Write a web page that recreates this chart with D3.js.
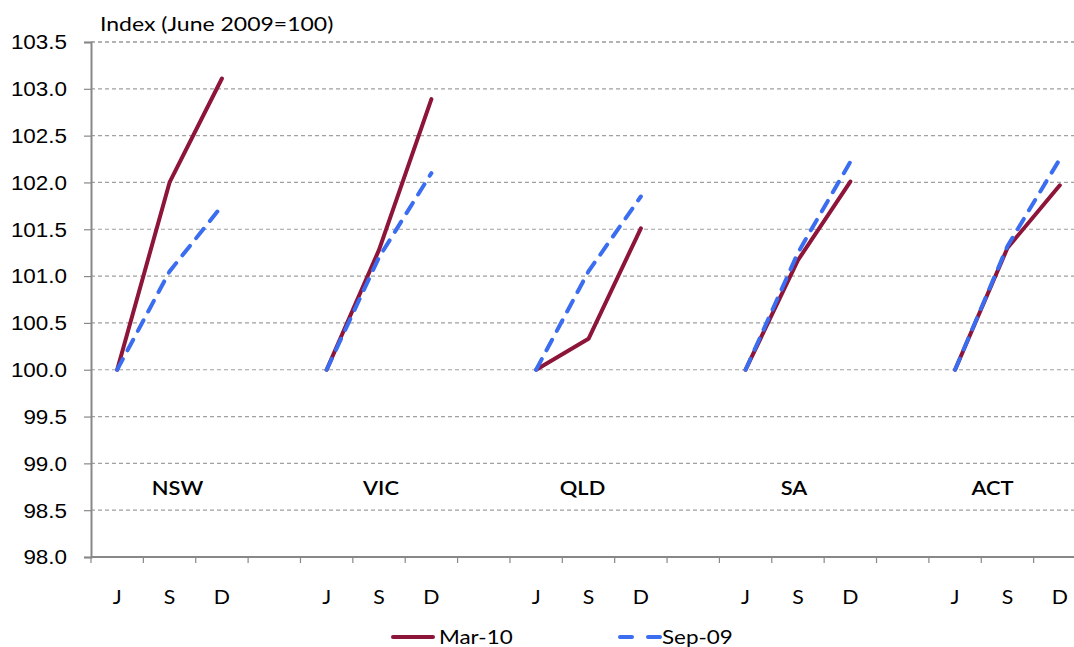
<!DOCTYPE html>
<html>
<head>
<meta charset="utf-8">
<script src="https://cdn.jsdelivr.net/npm/d3@7"></script>
<style>
  body { margin: 0; background: #fff; }
  svg { display: block; font-family: Lato, 'Open Sans', sans-serif; }
</style>
</head>
<body>
<div class="container"></div>
<script>
// Data
const states = ['NSW', 'VIC', 'QLD', 'SA', 'ACT'];
const quarters = ['J', 'S', 'D'];
const mar10 = [
  [100, 102.0, 103.11],
  [100, 101.28, 102.89],
  [100, 100.33, 101.51],
  [100, 101.17, 102.01],
  [100, 101.3, 101.97],
];
const sep09 = [
  [100, 101.05, 101.75],
  [100, 101.2, 102.1],
  [100, 101.05, 101.85],
  [100, 101.25, 102.22],
  [100, 101.32, 102.25],
];
const yTicks = [98, 98.5, 99, 99.5, 100, 100.5, 101, 101.5, 102, 102.5, 103, 103.5];

// Constants
const width = 1074;
const height = 647;
const margin = { top: 42, right: -12, bottom: 90, left: 91 };
const innerW = width - margin.left - margin.right;
const innerH = height - margin.top - margin.bottom;
const sx = 1.15; // text in the original is a little stretched sideways
const labelDx = [8, 2, -6, -4, -15];

// category slots: 3 quarters per state, blank slot between states
const slots = [];
states.forEach((s, i) => {
  quarters.forEach((q) => slots.push(s + '|' + q));
  if (i < states.length - 1) slots.push('gap' + i);
});

const x = d3.scaleBand().domain(slots).range([0, innerW]);
const y = d3.scaleLinear().domain([98, 103.5]).range([innerH, 0]);
const cx = (key) => x(key) + x.bandwidth() / 2;

// place a text at (px, py) with the horizontal stretch
const place = (px, py) => `translate(${px},${py}) scale(${sx},1)`;

const svg = d3
  .select('.container')
  .append('svg')
  .attr('width', width)
  .attr('height', height);

const g = svg
  .append('g')
  .attr('transform', `translate(${margin.left},${margin.top})`);

// Gridlines
g.append('g')
  .selectAll('line')
  .data(yTicks.filter((d) => d > 98))
  .enter()
  .append('line')
  .attr('x1', 0)
  .attr('x2', innerW)
  .attr('y1', (d) => y(d))
  .attr('y2', (d) => y(d))
  .attr('stroke', (d) => (d === 103.5 ? '#666' : '#a0a0a0'))
  .attr('stroke-width', 1.2)
  .attr('stroke-dasharray', '4,3');

// Y axis
const yAxis = d3
  .axisLeft(y)
  .tickValues(yTicks)
  .tickSize(7)
  .tickFormat(d3.format('.1f'));
const yg = g.append('g').call(yAxis);
yg.select('.domain').attr('stroke', '#888').attr('stroke-width', 2);
yg.selectAll('.tick line').attr('stroke', '#888').attr('stroke-width', 1.2);
yg.selectAll('.tick text')
  .attr('x', null)
  .attr('dy', '0.35em')
  .attr('transform', place(-24, 0))
  .attr('font-size', '19.5px')
  .attr('fill', '#000');

// X axis (ticks at category boundaries)
const xg = g.append('g').attr('transform', `translate(0,${innerH})`);
xg.append('line')
  .attr('x1', 0)
  .attr('x2', innerW)
  .attr('stroke', '#888')
  .attr('stroke-width', 2);
xg.selectAll('.bt')
  .data(slots)
  .enter()
  .append('line')
  .attr('class', 'bt')
  .attr('x1', (d) => x(d))
  .attr('x2', (d) => x(d))
  .attr('y1', 0)
  .attr('y2', 6)
  .attr('stroke', '#888')
  .attr('stroke-width', 1.2);
xg.selectAll('.xl')
  .data(slots.filter((d) => !d.startsWith('gap')))
  .enter()
  .append('text')
  .attr('class', 'xl')
  .attr('transform', (d) => place(cx(d), 47))
  .attr('text-anchor', 'middle')
  .attr('font-size', '18.5px')
  .text((d) => d.split('|')[1]);

// State labels
g.selectAll('.state')
  .data(states)
  .enter()
  .append('text')
  .attr('class', 'state')
  .attr('transform', (d, i) => place(cx(d + '|S') + labelDx[i], y(98.8) + 13))
  .attr('text-anchor', 'middle')
  .attr('font-size', '19px')
  .attr('font-weight', 600)
  .text((d) => d);

// Lines
const line = d3
  .line()
  .x((d) => cx(d.key))
  .y((d) => y(d.v));

const toPoints = (vals, s) => vals.map((v, i) => ({ key: s + '|' + quarters[i], v }));

states.forEach((s, i) => {
  g.append('path')
    .datum(toPoints(mar10[i], s))
    .attr('d', line)
    .attr('fill', 'none')
    .attr('stroke', '#8c1539')
    .attr('stroke-width', 4)
    .attr('stroke-linecap', 'round')
    .attr('stroke-linejoin', 'round');
});
states.forEach((s, i) => {
  g.append('path')
    .datum(toPoints(sep09[i], s))
    .attr('d', line)
    .attr('fill', 'none')
    .attr('stroke', '#3a6df0')
    .attr('stroke-width', 4)
    .attr('stroke-linecap', 'round')
    .attr('stroke-dasharray', '12,10');
});

// Title
svg
  .append('text')
  .attr('transform', place(100, 31))
  .attr('font-size', '20px')
  .text('Index (June 2009=100)');

// Legend
const legend = svg.append('g').attr('transform', 'translate(0,637)');
legend
  .append('line')
  .attr('x1', 393)
  .attr('x2', 433)
  .attr('stroke', '#8c1539')
  .attr('stroke-width', 4)
  .attr('stroke-linecap', 'round');
legend
  .append('text')
  .attr('transform', place(439, 7))
  .attr('font-size', '19.5px')
  .text('Mar-10');
legend
  .append('line')
  .attr('x1', 620)
  .attr('x2', 660)
  .attr('stroke', '#3a6df0')
  .attr('stroke-width', 4)
  .attr('stroke-linecap', 'round')
  .attr('stroke-dasharray', '12,16');
legend
  .append('text')
  .attr('transform', place(662, 7))
  .attr('font-size', '19.5px')
  .text('Sep-09');
</script>
</body>
</html>
